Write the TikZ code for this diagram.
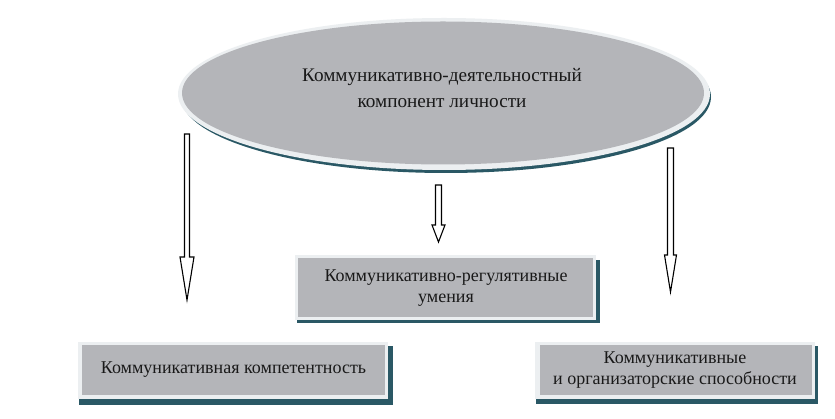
\documentclass[tikz,border=0pt]{standalone}
\usepackage{fontspec}
\setmainfont{Liberation Serif}
\usetikzlibrary{shapes.geometric,calc}
\definecolor{fillg}{HTML}{B4B5B9}
\definecolor{shad}{HTML}{2A5865}
\definecolor{rim}{HTML}{ECEFF1}
\tikzset{
  hollow/.style={draw=black, line width=1.1pt, fill=white, line join=miter},
  boxtext/.style={align=center, font=\fontsize{18}{21.5}\selectfont, inner sep=0pt, text=black!90},
  etext/.style={align=center, font=\fontsize{19.2}{26}\selectfont, inner sep=0pt, text=black!90}
}
\begin{document}
\begin{tikzpicture}[x=1pt,y=-1pt]
\useasboundingbox[fill=white] (0,0) rectangle (835,419);
% ellipse
\fill[shad] (446,97) ellipse [x radius=265, y radius=76];
\fill[rim] (444,94) ellipse [x radius=266, y radius=76];
\node[ellipse, fill=fillg, minimum width=522pt, minimum height=143pt, inner sep=0pt] (top) at (443,93) {};
\node[etext] (toptext) at (442,88) {Коммуникативно-деятельностный\\компонент личности};
% middle box
\fill[shad] (297,260) rectangle (600,323);
\fill[rim] (295,255) rectangle (596,320);
\node[fill=fillg, minimum width=295pt, minimum height=59pt, inner sep=0pt] (mid) at (445.5,287.5) {};
\node[boxtext] (midtext) at (446,288) {Коммуникативно-регулятивные\\умения};
% left box
\fill[shad] (79,346) rectangle (393,405);
\fill[rim] (78,342) rectangle (388,399);
\node[fill=fillg, minimum width=303pt, minimum height=50pt, inner sep=0pt] (left) at (233.5,370) {};
\node[boxtext] (lefttext) at (left) {Коммуникативная компетентность};
% right box
\fill[shad] (536,346) rectangle (818,404);
\fill[rim] (535,342) rectangle (815,399);
\node[fill=fillg, minimum width=272pt, minimum height=50pt, inner sep=0pt] (right) at (676,370) {};
\node[boxtext] (righttext) at (675,370) {Коммуникативные\\и организаторские способности};
% arrows
\coordinate (a1) at (187,134);
\coordinate (b1) at (187,300);
\coordinate (a2) at (438.5,185);
\coordinate (b2) at (438.5,242);
\coordinate (a3) at (670.5,148);
\coordinate (b3) at (670.5,292);
\draw[hollow] ($(a1)+(-2.5,0)$) -- ($(a1)+(2.5,0)$) -- ($(b1)+(2.5,-43)$) -- ($(b1)+(7,-43)$) -- (b1) -- ($(b1)+(-7,-43)$) -- ($(b1)+(-2.5,-43)$) -- cycle;
\draw[hollow] ($(a2)+(-3,0)$) -- ($(a2)+(3,0)$) -- ($(b2)+(3,-17)$) -- ($(b2)+(6.5,-17)$) -- (b2) -- ($(b2)+(-6.5,-17)$) -- ($(b2)+(-3,-17)$) -- cycle;
\draw[hollow] ($(a3)+(-3,0)$) -- ($(a3)+(3,0)$) -- ($(b3)+(3,-37)$) -- ($(b3)+(6,-37)$) -- (b3) -- ($(b3)+(-6,-37)$) -- ($(b3)+(-3,-37)$) -- cycle;
\end{tikzpicture}
\end{document}
